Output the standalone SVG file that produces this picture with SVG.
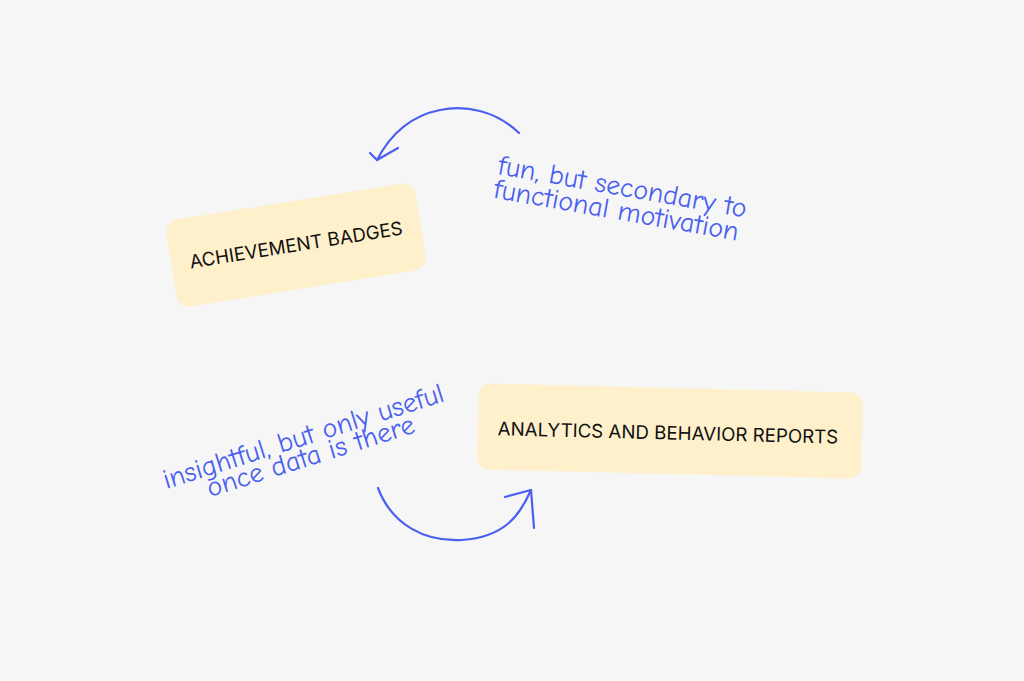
<svg xmlns="http://www.w3.org/2000/svg" width="1024" height="681" viewBox="0 0 1024 681">
<style>
.node{fill:#fef0cb}
.lbl{font-family:Inter,"Liberation Sans",sans-serif;font-size:18.7px;fill:#111;text-anchor:middle;dominant-baseline:central}
.note{font-family:"Comic Neue","Open Sans",sans-serif;font-weight:400;font-size:28px;fill:#4a5ff0}
.arr{fill:none;stroke:#4a5ff0;stroke-width:2.2;stroke-linecap:round;stroke-linejoin:round}
</style>
<rect width="1024" height="681" fill="#f6f6f6"/>
<g id="badges" transform="translate(296,245) rotate(-9.1)">
<rect class="node" x="-126" y="-44" width="252" height="88" rx="12"/>
<text class="lbl" x="0" y="0">ACHIEVEMENT BADGES</text>
</g>
<g id="analytics" transform="translate(670,431) rotate(1.4)">
<rect class="node" x="-192" y="-43" width="384" height="86" rx="12"/>
<text class="lbl" x="-2" y="2">ANALYTICS AND BEHAVIOR REPORTS</text>
</g>
<g id="note-badges" transform="translate(498,168) rotate(10)">
<text class="note" x="0" y="6">fun, but secondary to</text>
<text class="note" x="0" y="30">functional motivation</text>
</g>
<g id="note-analytics" transform="translate(306,445) rotate(-17.5)">
<text class="note" x="0" y="0" text-anchor="middle">insightful, but only useful</text>
<text class="note" x="1" y="21" text-anchor="middle">once data is there</text>
</g>
<g id="connectors">
<path class="arr" d="M519,133 C495,110 465,105 440,110 C410,116 390,135 377,160"/>
<path class="arr" d="M370,153 L377,160 L398,148"/>
<path class="arr" d="M378,488 C392,525 425,542 462,540 C505,537 520,515 531,490"/>
<path class="arr" d="M505,497 L531,490 L534,528"/>
</g>
</svg>
